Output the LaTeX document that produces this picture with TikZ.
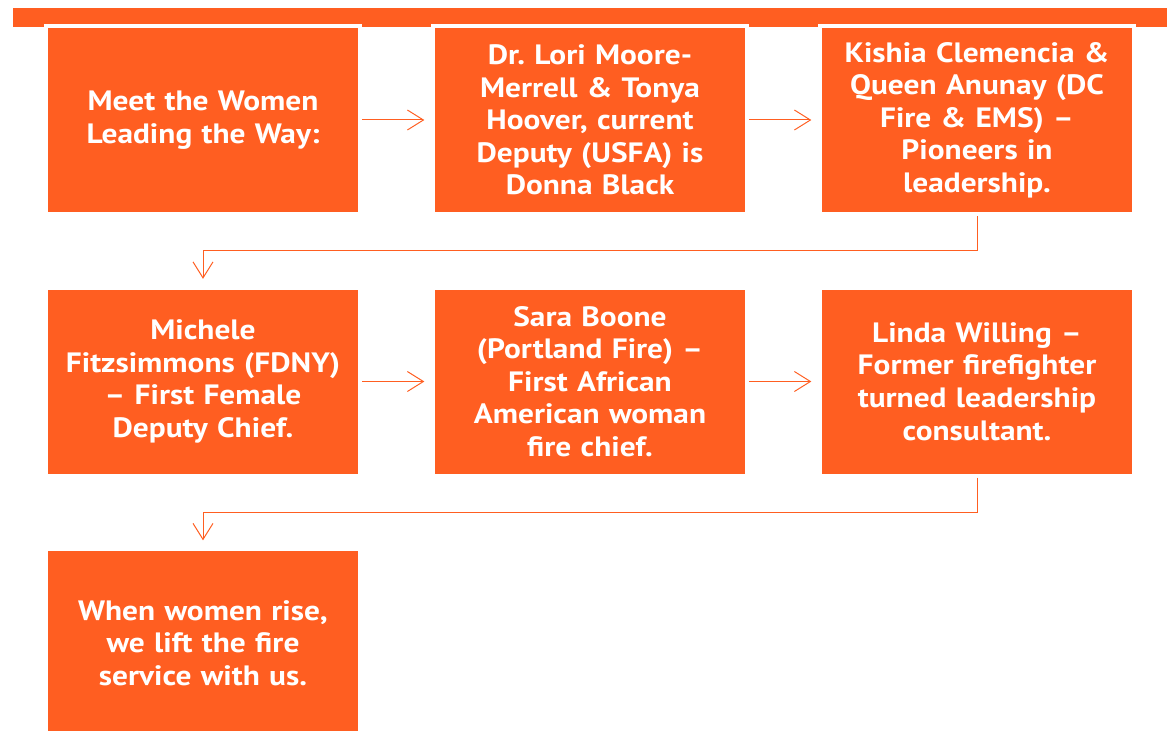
\documentclass[tikz,border=0pt]{standalone}
\usepackage{fontspec}
\setmainfont{PT Sans}[FakeStretch=1.12]
\usetikzlibrary{arrows.meta, calc}
\definecolor{fireorange}{RGB}{255,94,33}
\tikzset{
  box/.style={fill=fireorange, draw=white, line width=3pt,
    minimum width=235.5pt, minimum height=141pt, text width=228pt,
    align=center, text=white, inner sep=0pt,
    font=\frenchspacing\bfseries\fontsize{21}{24.4}\selectfont},
  arr/.style={draw=fireorange, line width=0.75pt,
    -{Straight Barb[length=12pt,width=15pt]}, shorten >=5pt}
}
\begin{document}
\begin{tikzpicture}[x=0.75pt, y=-0.75pt]
\useasboundingbox (0,0) rectangle (1167,731);
% top bar
\fill[fireorange] (13,8) rectangle (1167,27);
% first row
\node[box] (meet) at (203,120) {Meet the Women\\Leading the Way:};
\node[box] (lori) at (590,120) {Dr. Lori Moore-\\Merrell \& Tonya\\Hoover, current\\Deputy (USFA) is\\Donna Black};
\node[box] (kishia) at (977,120) {Kishia Clemencia \&\\Queen Anunay (DC\\Fire \& EMS) –\\Pioneers in\\leadership.};
% second row
\node[box] (michele) at (203,381.5) {Michele\\Fitzsimmons (FDNY)\\– First Female\\Deputy Chief.};
\node[box] (sara) at (590,381.5) {Sara Boone\\(Portland Fire) –\\First African\\American woman\\fire chief.};
\node[box] (linda) at (977,381.5) {Linda Willing –\\Former firefighter\\turned leadership\\consultant.};
% last row
\node[box] (rise) at (203,643) {When women rise,\\we lift the fire\\service with us.};
% connectors
\draw[arr] (meet) -- (lori);
\draw[arr] (lori) -- (kishia);
\coordinate (turnA) at ($(kishia.south)!.5!(kishia.south |- michele.north)$);
\draw[arr] (kishia.south) -- (turnA) -| (michele.north);
\draw[arr] (michele) -- (sara);
\draw[arr] (sara) -- (linda);
\coordinate (turnB) at ($(linda.south)!.5!(linda.south |- rise.north)$);
\draw[arr] (linda.south) -- (turnB) -| (rise.north);
\end{tikzpicture}
\end{document}
